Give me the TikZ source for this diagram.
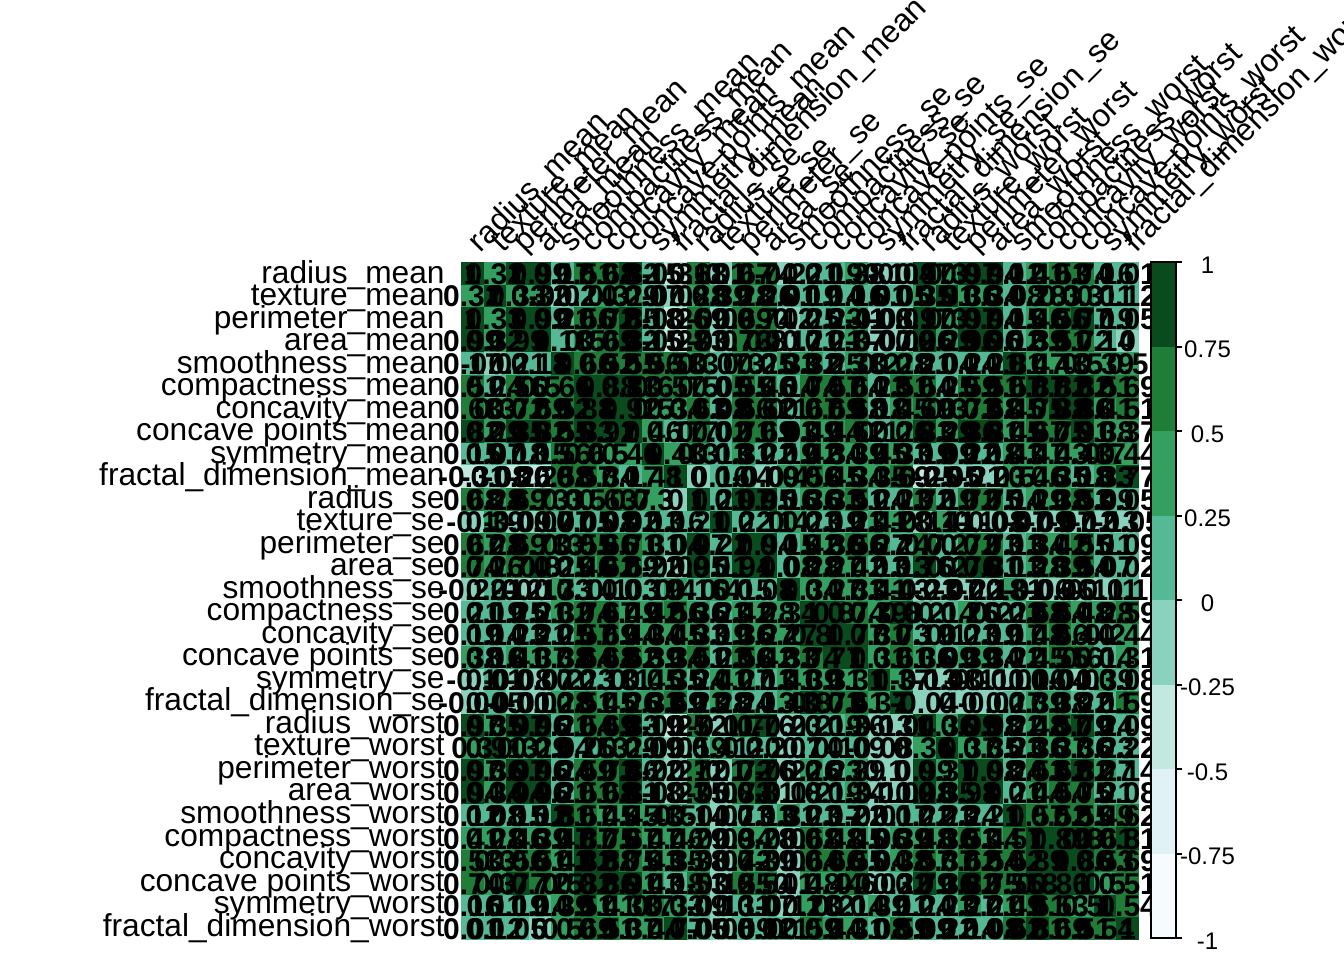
\documentclass[tikz,border=0pt]{standalone}
\usepackage{fontspec}
\setmainfont{Liberation Sans}
\usetikzlibrary{positioning}
\definecolor{cbin0}{RGB}{246,251,253}
\definecolor{cbin1}{RGB}{224,242,246}
\definecolor{cbin2}{RGB}{195,232,224}
\definecolor{cbin3}{RGB}{138,210,190}
\definecolor{cbin4}{RGB}{85,185,150}
\definecolor{cbin5}{RGB}{52,160,95}
\definecolor{cbin6}{RGB}{32,125,55}
\definecolor{cbin7}{RGB}{10,75,30}
\newcommand{\corrnames}{radius_mean,texture_mean,perimeter_mean,area_mean,smoothness_mean,compactness_mean,concavity_mean,concave points_mean,symmetry_mean,fractal_dimension_mean,radius_se,texture_se,perimeter_se,area_se,smoothness_se,compactness_se,concavity_se,concave points_se,symmetry_se,fractal_dimension_se,radius_worst,texture_worst,perimeter_worst,area_worst,smoothness_worst,compactness_worst,concavity_worst,concave points_worst,symmetry_worst,fractal_dimension_worst}
\newcommand{\corrvals}{%
{1,0.32,1,0.99,0.17,0.51,0.68,0.82,0.15,-0.31,0.68,-0.1,0.67,0.74,-0.22,0.21,0.19,0.38,-0.1,-0.04,0.97,0.3,0.97,0.94,0.12,0.41,0.53,0.74,0.16,0.01},
{0.32,1,0.33,0.32,-0.02,0.24,0.3,0.29,0.07,-0.08,0.28,0.39,0.28,0.26,0.01,0.19,0.14,0.16,0.01,0.05,0.35,0.91,0.36,0.34,0.08,0.28,0.3,0.3,0.11,0.12},
{1,0.33,1,0.99,0.21,0.56,0.72,0.85,0.18,-0.26,0.69,-0.09,0.69,0.74,-0.2,0.25,0.23,0.41,-0.08,-0.01,0.97,0.3,0.97,0.94,0.15,0.46,0.56,0.77,0.19,0.05},
{0.99,0.32,0.99,1,0.18,0.5,0.69,0.82,0.15,-0.28,0.73,-0.07,0.73,0.8,-0.17,0.21,0.21,0.37,-0.07,-0.02,0.96,0.29,0.96,0.96,0.12,0.39,0.51,0.72,0.14,0},
{0.17,-0.02,0.21,0.18,1,0.66,0.52,0.55,0.56,0.58,0.3,0.07,0.3,0.25,0.33,0.32,0.25,0.38,0.2,0.28,0.21,0.04,0.24,0.21,0.81,0.47,0.43,0.5,0.39,0.5},
{0.51,0.24,0.56,0.5,0.66,1,0.88,0.83,0.6,0.57,0.5,0.05,0.55,0.46,0.14,0.74,0.57,0.64,0.23,0.51,0.54,0.25,0.59,0.51,0.57,0.87,0.82,0.82,0.51,0.69},
{0.68,0.3,0.72,0.69,0.52,0.88,1,0.92,0.5,0.34,0.63,0.08,0.66,0.62,0.1,0.67,0.69,0.68,0.18,0.45,0.69,0.3,0.73,0.68,0.45,0.75,0.88,0.86,0.41,0.51},
{0.82,0.29,0.85,0.82,0.55,0.83,0.92,1,0.46,0.17,0.7,0.02,0.71,0.69,0.03,0.49,0.44,0.62,0.1,0.26,0.83,0.29,0.86,0.81,0.45,0.67,0.75,0.91,0.38,0.37},
{0.15,0.07,0.18,0.15,0.56,0.6,0.5,0.46,1,0.48,0.3,0.13,0.31,0.22,0.19,0.42,0.34,0.39,0.45,0.33,0.19,0.09,0.22,0.18,0.43,0.47,0.43,0.43,0.7,0.44},
{-0.31,-0.08,-0.26,-0.28,0.58,0.57,0.34,0.17,0.48,1,0,0.16,0.04,-0.09,0.4,0.56,0.45,0.34,0.35,0.69,-0.25,-0.05,-0.21,-0.23,0.5,0.46,0.35,0.18,0.33,0.77},
{0.68,0.28,0.69,0.73,0.3,0.5,0.63,0.7,0.3,0,1,0.21,0.97,0.95,0.16,0.36,0.33,0.51,0.24,0.23,0.72,0.19,0.72,0.75,0.14,0.29,0.38,0.53,0.09,0.05},
{-0.1,0.39,-0.09,-0.07,0.07,0.05,0.08,0.02,0.13,0.16,0.21,1,0.22,0.11,0.4,0.23,0.19,0.23,0.41,0.28,-0.11,0.41,-0.1,-0.08,-0.07,-0.09,-0.07,-0.12,-0.13,-0.05},
{0.67,0.28,0.69,0.73,0.3,0.55,0.66,0.71,0.31,0.04,0.97,0.22,1,0.94,0.15,0.42,0.36,0.56,0.27,0.24,0.7,0.2,0.72,0.73,0.13,0.34,0.42,0.55,0.11,0.09},
{0.74,0.26,0.74,0.8,0.25,0.46,0.62,0.69,0.22,-0.09,0.95,0.11,0.94,1,0.08,0.28,0.27,0.42,0.13,0.13,0.76,0.2,0.76,0.81,0.13,0.28,0.39,0.54,0.07,0.02},
{-0.22,0.01,-0.2,-0.17,0.33,0.14,0.1,0.03,0.19,0.4,0.16,0.4,0.15,0.08,1,0.34,0.27,0.33,0.41,0.43,-0.23,-0.07,-0.22,-0.18,0.31,-0.06,-0.06,-0.1,-0.11,0.1},
{0.21,0.19,0.25,0.21,0.32,0.74,0.67,0.49,0.42,0.56,0.36,0.23,0.42,0.28,0.34,1,0.8,0.74,0.39,0.8,0.2,0.14,0.26,0.2,0.23,0.68,0.64,0.48,0.28,0.59},
{0.19,0.14,0.23,0.21,0.25,0.57,0.69,0.44,0.34,0.45,0.33,0.19,0.36,0.27,0.27,0.8,1,0.77,0.31,0.73,0.19,0.1,0.23,0.19,0.17,0.48,0.66,0.44,0.2,0.44},
{0.38,0.16,0.41,0.37,0.38,0.64,0.68,0.62,0.39,0.34,0.51,0.23,0.56,0.42,0.33,0.74,0.77,1,0.31,0.61,0.36,0.09,0.39,0.34,0.22,0.45,0.55,0.6,0.14,0.31},
{-0.1,0.01,-0.08,-0.07,0.2,0.23,0.18,0.1,0.45,0.35,0.24,0.41,0.27,0.13,0.41,0.39,0.31,0.31,1,0.37,-0.13,-0.08,-0.1,-0.11,-0.01,0.06,0.04,-0.03,0.39,0.08},
{-0.04,0.05,-0.01,-0.02,0.28,0.51,0.45,0.26,0.33,0.69,0.23,0.28,0.24,0.13,0.43,0.8,0.73,0.61,0.37,1,-0.04,0,0,-0.02,0.17,0.39,0.38,0.22,0.11,0.59},
{0.97,0.35,0.97,0.96,0.21,0.54,0.69,0.83,0.19,-0.25,0.72,-0.11,0.7,0.76,-0.23,0.2,0.19,0.36,-0.13,-0.04,1,0.36,0.99,0.98,0.22,0.48,0.57,0.79,0.24,0.09},
{0.3,0.91,0.3,0.29,0.04,0.25,0.3,0.29,0.09,-0.05,0.19,0.41,0.2,0.2,-0.07,0.14,0.1,0.09,-0.08,0,0.36,1,0.37,0.35,0.23,0.36,0.37,0.36,0.23,0.22},
{0.97,0.36,0.97,0.96,0.24,0.59,0.73,0.86,0.22,-0.21,0.72,-0.1,0.72,0.76,-0.22,0.26,0.23,0.39,-0.1,0,0.99,0.37,1,0.98,0.24,0.53,0.62,0.82,0.27,0.14},
{0.94,0.34,0.94,0.96,0.21,0.51,0.68,0.81,0.18,-0.23,0.75,-0.08,0.73,0.81,-0.18,0.2,0.19,0.34,-0.11,-0.02,0.98,0.35,0.98,1,0.21,0.44,0.54,0.75,0.21,0.08},
{0.12,0.08,0.15,0.12,0.81,0.57,0.45,0.45,0.43,0.5,0.14,-0.07,0.13,0.13,0.31,0.23,0.17,0.22,-0.01,0.17,0.22,0.23,0.24,0.21,1,0.57,0.52,0.55,0.49,0.62},
{0.41,0.28,0.46,0.39,0.47,0.87,0.75,0.67,0.47,0.46,0.29,-0.09,0.34,0.28,-0.06,0.68,0.48,0.45,0.06,0.39,0.48,0.36,0.53,0.44,0.57,1,0.89,0.8,0.61,0.81},
{0.53,0.3,0.56,0.51,0.43,0.82,0.88,0.75,0.43,0.35,0.38,-0.07,0.42,0.39,-0.06,0.64,0.66,0.55,0.04,0.38,0.57,0.37,0.62,0.54,0.52,0.89,1,0.86,0.53,0.69},
{0.74,0.3,0.77,0.72,0.5,0.82,0.86,0.91,0.43,0.18,0.53,-0.12,0.55,0.54,-0.1,0.48,0.44,0.6,-0.03,0.22,0.79,0.36,0.82,0.75,0.55,0.8,0.86,1,0.5,0.51},
{0.16,0.11,0.19,0.14,0.39,0.51,0.41,0.38,0.7,0.33,0.09,-0.13,0.11,0.07,-0.11,0.28,0.2,0.14,0.39,0.11,0.24,0.23,0.27,0.21,0.49,0.61,0.53,0.5,1,0.54},
{0.01,0.12,0.05,0,0.5,0.69,0.51,0.37,0.44,0.77,0.05,-0.05,0.09,0.02,0.1,0.59,0.44,0.31,0.08,0.59,0.09,0.22,0.14,0.08,0.62,0.81,0.69,0.51,0.54,1}}
\tikzset{
  varlab/.style={inner sep=0pt,font=\fontsize{15.85}{16}\selectfont},
  numlab/.style={inner sep=0pt,font=\fontsize{15}{15}\selectfont\bfseries},
  barlab/.style={inner sep=0pt,font=\fontsize{12}{12}\selectfont},
  bartick/.style={line width=1pt,black}
}
\begin{document}
\begin{tikzpicture}[x=0.5pt,y=-0.5pt]
  \useasboundingbox (0,0) rectangle (1344,960);
  % cells
  \foreach \rowvals [count=\ri] in \corrvals {
    \foreach \v [count=\ci] in \rowvals {
      \pgfmathtruncatemacro{\bn}{min(7,floor((\v+1-0.001)/0.25))}
      \fill[cbin\bn] ({461+(\ci-1)*22.6},{262+(\ri-1)*22.6}) rectangle ++(22.6,22.6);
    }
  }
  % numbers
  \foreach \rowvals [count=\ri] in \corrvals {
    \foreach \v [count=\ci] in \rowvals {
      \node[numlab] (n\ri-\ci) at ({472.3+(\ci-1)*22.6},{273.8+(\ri-1)*22.6}) {\v};
    }
  }
  % variable names
  {\catcode`\_=12
  \foreach \nm [count=\i] in \corrnames {
    \node[varlab,anchor=base east] (row\i) at (445,{283+(\i-1)*22.52}) {\detokenize\expandafter{\nm}};
    \node[varlab,anchor=base west,rotate=45] (col\i) at ({480.5+(\i-1)*22.6},254) {\detokenize\expandafter{\nm}};
  }}
  % colour bar
  \foreach \b [count=\i from 0] in {7,6,5,4,3,2,1,0} {
    \fill[cbin\b] (1151,{262+\i*84.5}) rectangle ++(25,84.5);
  }
  \draw[line width=1pt] (1151,262) rectangle (1176,938);
  \foreach \t [count=\i from 0] in {1,0.75,0.5,0.25,0,-0.25,-0.5,-0.75,-1} {
    \draw[bartick] (1176,{262+\i*84.5}) -- (1182,{262+\i*84.5});
    \node[barlab] (tick\i) at (1207.5,{265+\i*84.5}) {\t};
  }
\end{tikzpicture}
\end{document}
